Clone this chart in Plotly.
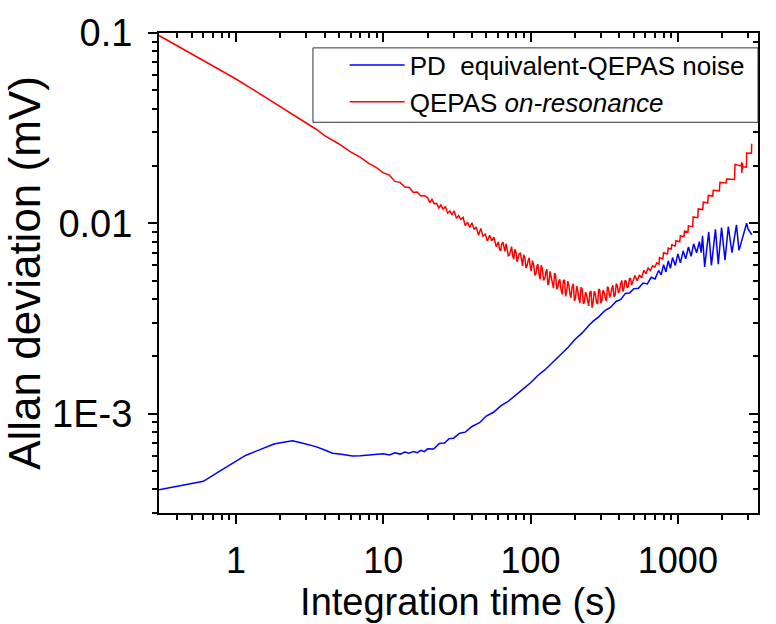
import math
import plotly.graph_objects as go

# ---------------- data ----------------
red_tau = [0.3, 0.4, 0.5, 0.6, 0.8, 1.0, 1.3, 1.6, 2.0, 2.5, 3.0, 3.5, 4.0, 5.0, 6.0, 7.0, 8.0, 9.0,
           10, 11, 12, 13, 14, 15, 16, 17, 18, 19,
           20, 20.7, 21.4, 22.2, 23, 23.8, 24.6, 25.5, 26.4, 27.3, 28.3, 29.3, 30.3, 31.4, 32.5,
           33.6, 34.8, 36, 37.3, 38.6, 40, 41.4, 42.8, 44.3, 45.9, 47.5, 49.2, 50.9, 52.7, 54.5,
           56.4, 58.4, 60.5, 62.6, 64.8, 67, 69.4, 71.8, 74.3, 76.9, 79.6, 82.4, 85.3, 88.3,
           91.4, 94.6, 97.9, 101, 105, 109, 112, 116, 120, 125, 129, 133, 138, 143, 148, 153,
           158, 164, 170, 176, 182, 188, 195, 202, 209, 216, 224, 232, 240, 248, 257, 266, 275,
           285, 295, 305, 316, 327, 338, 350, 362, 375, 388, 402, 416, 430, 445, 461, 477, 494,
           511, 529, 548, 567, 587, 607, 628, 650, 673, 697,
           720, 745, 750, 790, 800, 850, 860, 900, 910, 960, 970, 1030, 1040, 1100, 1110, 1170,
           1180, 1260, 1270, 1365, 1375, 1475, 1487, 1595, 1608, 1725, 1738, 1915, 1930, 2125,
           2143, 2425, 2443, 2690, 2700, 2710, 2720, 2730, 2740, 2750, 2760, 2920, 2932, 3160, 3170]
red_val = [0.097, 0.0857, 0.078, 0.0721, 0.0637, 0.0573, 0.0505, 0.0456, 0.0408, 0.0366, 0.0335,
           0.0312, 0.0289, 0.0261, 0.0237, 0.0222, 0.0206, 0.0196,
           0.0184, 0.0179, 0.0166, 0.0164, 0.0155, 0.0154, 0.0145, 0.0146, 0.0139, 0.0140,
           0.01360, 0.01284, 0.01336, 0.01266, 0.01274, 0.01204, 0.01248, 0.01186, 0.01224,
           0.01132, 0.01160, 0.01111, 0.01161, 0.01061, 0.01098, 0.01048, 0.01074, 0.00972,
           0.01012, 0.00950, 0.01006, 0.00927, 0.00956, 0.00865, 0.00940, 0.00855, 0.00877,
           0.00806, 0.00866, 0.00810, 0.00845, 0.00754, 0.00798, 0.00716, 0.00797, 0.00711,
           0.00737, 0.00681, 0.00753, 0.00648, 0.00704, 0.00654, 0.00696, 0.00597, 0.00663,
           0.00596, 0.00659, 0.00561, 0.00602, 0.00546, 0.00610, 0.00507, 0.00581, 0.00515,
           0.00573, 0.00482, 0.00519, 0.00456, 0.00532, 0.00461, 0.00507, 0.00423, 0.00505,
           0.00441, 0.00470, 0.00406, 0.00480, 0.00405, 0.00444, 0.00380, 0.00450, 0.00384,
           0.00420, 0.00368, 0.00440, 0.00385, 0.00429, 0.00376, 0.00445, 0.00394, 0.00433,
           0.00389, 0.00457, 0.00421, 0.00472, 0.00418, 0.00469, 0.00443, 0.00501, 0.00452,
           0.00495, 0.00465, 0.00512, 0.00489, 0.00531, 0.00499, 0.00535, 0.00516, 0.00566,
           0.00543, 0.00582, 0.00564, 0.00598, 0.00588,
           0.0062, 0.0061, 0.0066, 0.0065, 0.0070, 0.0069, 0.0074, 0.0073, 0.0077, 0.0076,
           0.0081, 0.0080, 0.0086, 0.0085, 0.0091, 0.0090, 0.0097, 0.0096, 0.0108, 0.0107,
           0.0119, 0.0118, 0.0129, 0.0128, 0.0140, 0.0139, 0.0149, 0.0148, 0.0164, 0.0163,
           0.0171, 0.0170, 0.0204, 0.0200, 0.0186, 0.0209, 0.0184, 0.0206, 0.0190, 0.0207,
           0.0198, 0.0197, 0.0234, 0.0233, 0.0262]

# extra red readings inside the noisy band (between the samples above)
red_tau_extra = [61.5, 63.7, 65.9, 68.2, 70.6, 73.0, 75.6, 78.2, 81.0, 83.8, 86.8, 89.8, 93.0,
                 96.2, 99.4, 103, 107, 110.5, 114, 118, 122.5, 127, 131, 135.5, 140.5, 145.5,
                 150.5, 155.5, 161, 167, 173, 179, 185, 191.5, 198.5, 205.5, 212.5, 220, 228,
                 236, 244, 252.5, 261.5, 270.5, 280, 290, 300, 310.5, 321.5, 332.5, 344, 356,
                 368.5, 381.5, 395, 409, 423, 437.5, 453, 469, 485.5]
red_val_extra = [0.00730, 0.00779, 0.00731, 0.00782, 0.00675, 0.00725, 0.00674, 0.00729,
                 0.00627, 0.00693, 0.00631, 0.00682, 0.00582, 0.00635, 0.00594, 0.00636,
                 0.00532, 0.00595, 0.00543, 0.00602, 0.00501, 0.00554, 0.00475, 0.00559,
                 0.00485, 0.00547, 0.00450, 0.00495, 0.00446, 0.00499, 0.00413, 0.00496,
                 0.00426, 0.00464, 0.00390, 0.00468, 0.00403, 0.00461, 0.00378, 0.00435,
                 0.00390, 0.00434, 0.00360, 0.00439, 0.00383, 0.00451, 0.00380, 0.00445,
                 0.00405, 0.00464, 0.00408, 0.00455, 0.00411, 0.00482, 0.00430, 0.00481,
                 0.00438, 0.00501, 0.00458, 0.00512, 0.00473]

blue_tau = [0.3, 0.6, 0.8, 1.0, 1.16, 1.4, 1.81, 2.1, 2.42, 2.8, 3.48, 4.0, 4.52, 5.2, 6.18, 7, 8, 9,
            10, 11, 12, 13, 14, 15, 16, 17, 18, 19, 20, 22, 24, 26, 28, 30, 33, 36, 40, 45, 50,
            56, 63, 70, 80, 90, 100, 112, 125, 142, 160, 180, 200, 225, 250, 265, 290, 320, 350,
            380, 410, 440, 470, 500, 540, 580, 620, 660, 700, 740, 770, 800, 830, 860, 890, 920,
            960, 1000, 1040, 1087, 1130, 1180, 1230, 1280, 1340, 1400, 1440, 1470, 1520, 1620,
            1690, 1800, 1880, 1980, 2090, 2200, 2330, 2500, 2600, 2930, 3000, 3100, 3180]
blue_val = [3.98e-4, 4.40e-4, 5.05e-4, 5.61e-4, 6.02e-4, 6.38e-4, 6.92e-4, 7.06e-4, 7.19e-4,
            7.00e-4, 6.70e-4, 6.43e-4, 6.19e-4, 6.10e-4, 5.98e-4, 6.00e-4, 6.05e-4, 6.08e-4,
            6.15e-4, 6.05e-4, 6.22e-4, 6.12e-4, 6.28e-4, 6.18e-4, 6.32e-4, 6.22e-4, 6.40e-4,
            6.30e-4, 6.52e-4, 6.50e-4, 6.95e-4, 7.00e-4, 7.38e-4, 7.42e-4, 7.88e-4, 7.98e-4,
            8.55e-4, 8.95e-4, 9.70e-4, 1.015e-3, 1.10e-3, 1.153e-3, 1.25e-3, 1.356e-3, 1.45e-3,
            1.585e-3, 1.695e-3, 1.86e-3, 2.05e-3, 2.23e-3, 2.45e-3, 2.66e-3, 2.92e-3, 3.05e-3,
            3.22e-3, 3.48e-3, 3.62e-3, 3.88e-3, 3.98e-3, 4.28e-3, 4.30e-3, 4.52e-3, 4.55e-3,
            4.85e-3, 4.80e-3, 5.20e-3, 5.10e-3, 5.65e-3, 5.35e-3, 6.05e-3, 5.55e-3, 6.35e-3,
            5.80e-3, 6.60e-3, 6.00e-3, 6.90e-3, 6.20e-3, 7.15e-3, 6.50e-3, 7.50e-3, 6.70e-3,
            7.80e-3, 7.00e-3, 8.00e-3, 7.00e-3, 8.60e-3, 5.90e-3, 9.00e-3, 6.00e-3, 9.30e-3,
            6.10e-3, 9.50e-3, 6.40e-3, 9.60e-3, 7.00e-3, 9.80e-3, 7.20e-3, 1.00e-2, 9.30e-3,
            9.00e-3, 8.70e-3]

x_tickvals = [1, 10, 100, 1000]
x_ticktext = ["1", "10", "100", "1000"]
x_minor = [0.4, 0.5, 0.6, 0.7, 0.8, 0.9, 2, 3, 4, 5, 6, 7, 8, 9, 20, 30, 40, 50, 60, 70, 80, 90,
           200, 300, 400, 500, 600, 700, 800, 900, 2000, 3000]
y_tickvals = [1e-3, 0.01, 0.1]
y_ticktext = ["1E-3", "0.01", "0.1"]
y_minor = [3e-4, 4e-4, 5e-4, 6e-4, 7e-4, 8e-4, 9e-4, 2e-3, 3e-3, 4e-3, 5e-3, 6e-3, 7e-3, 8e-3,
           9e-3, 0.02, 0.03, 0.04, 0.05, 0.06, 0.07, 0.08, 0.09]
x_range = [0.3, 3500]
y_range = [3.0e-4, 0.1]

xr = [math.log10(v) for v in x_range]
yr = [math.log10(v) for v in y_range]

# merge the two sets of red readings in time order
red_pts = sorted(zip(red_tau + red_tau_extra, red_val + red_val_extra))
red_x = [p[0] for p in red_pts]
red_y = [p[1] for p in red_pts]

FONT = "Liberation Sans, Arial, sans-serif"

fig = go.Figure()
fig.add_trace(go.Scatter(x=blue_tau, y=blue_val, mode="lines",
                         line=dict(color="#0000FF", width=1.5),
                         name="PD  equivalent-QEPAS noise"))
fig.add_trace(go.Scatter(x=red_x, y=red_y, mode="lines",
                         line=dict(color="#FF0000", width=1.5),
                         name="QEPAS <i>on-resonance</i>"))
# helper trace for the mirrored (inside) top/right ticks
fig.add_trace(go.Scatter(x=[], y=[], xaxis="x2", yaxis="y2", showlegend=False, hoverinfo="skip"))

fig.update_layout(
    width=776, height=624,
    margin=dict(l=159, r=18, t=31, b=104),
    paper_bgcolor="white", plot_bgcolor="white",
    font=dict(family=FONT, color="black"),
    showlegend=True,
    legend=dict(x=0.31, y=0.982, xanchor="left", yanchor="top",
                bgcolor="rgba(0,0,0,0)", borderwidth=0,
                font=dict(size=26, family=FONT), itemwidth=55, tracegroupgap=0),
    xaxis=dict(type="log", range=xr, showline=True, linecolor="black", linewidth=2,
               mirror=True, ticks="outside", ticklen=9, tickwidth=2, tickcolor="black",
               tickmode="array", tickvals=x_tickvals, ticktext=x_ticktext,
               tickfont=dict(size=36, family=FONT), ticklabelstandoff=6,
               minor=dict(tickmode="array", tickvals=x_minor, ticks="outside", ticklen=5,
                          tickwidth=2, tickcolor="black", showgrid=False),
               showgrid=False, zeroline=False,
               title=dict(text="Integration time (s)", font=dict(size=38, family=FONT),
                          standoff=4)),
    yaxis=dict(type="log", range=yr, showline=True, linecolor="black", linewidth=2,
               mirror=True, ticks="outside", ticklen=9, tickwidth=2, tickcolor="black",
               tickmode="array", tickvals=y_tickvals, ticktext=y_ticktext,
               tickfont=dict(size=38, family=FONT), ticklabelstandoff=8,
               minor=dict(tickmode="array", tickvals=y_minor, ticks="outside", ticklen=5,
                          tickwidth=2, tickcolor="black", showgrid=False),
               showgrid=False, zeroline=False,
               title=dict(text="Allan deviation (mV)", font=dict(size=44, family=FONT),
                          standoff=8)),
    xaxis2=dict(type="log", range=xr, overlaying="x", side="top", anchor="y",
                showline=False, ticks="inside", ticklen=9, tickwidth=2, tickcolor="black",
                tickmode="array", tickvals=x_tickvals, showticklabels=False,
                minor=dict(tickmode="array", tickvals=x_minor, ticks="inside", ticklen=5,
                           tickwidth=2, tickcolor="black", showgrid=False),
                showgrid=False, zeroline=False),
    yaxis2=dict(type="log", range=yr, overlaying="y", side="right", anchor="x",
                showline=False, ticks="inside", ticklen=9, tickwidth=2, tickcolor="black",
                tickmode="array", tickvals=y_tickvals, showticklabels=False,
                minor=dict(tickmode="array", tickvals=y_minor, ticks="inside", ticklen=5,
                           tickwidth=2, tickcolor="black", showgrid=False),
                showgrid=False, zeroline=False),
    shapes=[dict(type="rect", xref="paper", yref="paper", x0=0.257, x1=1.0,
                 y0=0.814, y1=0.969, fillcolor="white",
                 line=dict(color="#333333", width=1), layer="above")],
)

fig.write_html("out.html")
